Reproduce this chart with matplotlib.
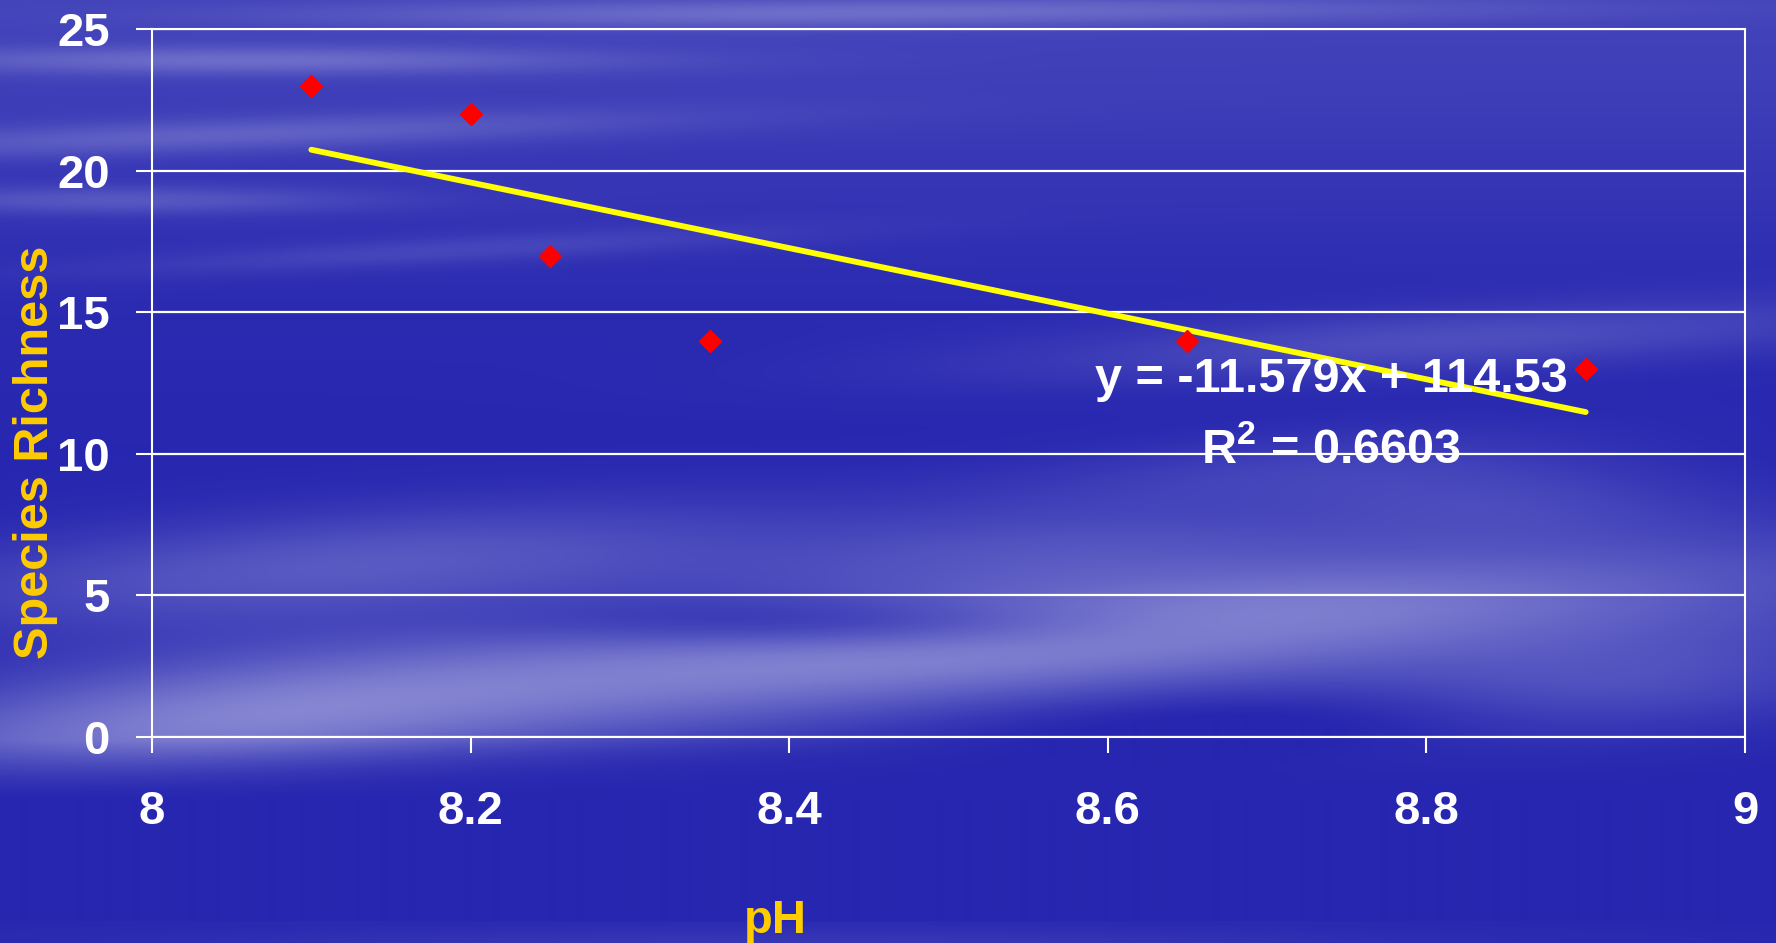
import numpy as np
import matplotlib
matplotlib.use('Agg')
import matplotlib.pyplot as plt

# ---------------- data ----------------
ph = [8.1, 8.2, 8.25, 8.35, 8.65, 8.9]
richness = [23, 22, 17, 14, 14, 13]
x_ticks = [8.0, 8.2, 8.4, 8.6, 8.8, 9.0]
x_tick_labels = ['8', '8.2', '8.4', '8.6', '8.8', '9']
y_ticks = [0, 5, 10, 15, 20, 25]
y_tick_labels = ['0', '5', '10', '15', '20', '25']
equation_text = 'y = -11.579x + 114.53'
r2_text = 'R$^{2}$ = 0.6603'
x_label = 'pH'
y_label = 'Species Richness'

# ---------------- style ----------------
plt.rcParams['font.family'] = ['Liberation Sans', 'DejaVu Sans']
plt.rcParams['mathtext.fontset'] = 'custom'
plt.rcParams['mathtext.rm'] = 'Liberation Sans:bold'
plt.rcParams['mathtext.it'] = 'Liberation Sans:bold'
plt.rcParams['mathtext.bf'] = 'Liberation Sans:bold'

W, H = 1776, 943
GOLD = '#FFCC00'

# ---------------- decorative sky background ----------------
yy, xx = np.mgrid[0:H, 0:W].astype(float)
inten = np.zeros((H, W))

def blob(cx, cy, sx, sy, amp, ang=0.0):
    a = np.deg2rad(ang)
    dx = xx - cx
    dy = yy - cy
    u = dx * np.cos(a) + dy * np.sin(a)
    v = -dx * np.sin(a) + dy * np.cos(a)
    return amp * np.exp(-0.5 * ((u / sx) ** 2 + (v / sy) ** 2))

inten += 0.22 * np.exp(-0.5 * (yy / 170.0) ** 2)
for b in [(250, 60, 260, 10, 0.35, 0), (220, 135, 320, 12, 0.30, -2),
          (120, 200, 180, 10, 0.28, 0), (700, 15, 320, 10, 0.25, 0),
          (1150, 8, 350, 10, 0.2, 0), (450, 250, 250, 10, 0.18, -3),
          (1450, 340, 320, 22, 0.28, -3), (1250, 475, 220, 28, 0.18, -5),
          (1500, 500, 150, 30, 0.2, 0),
          (350, 565, 320, 38, 0.40, -4), (780, 665, 480, 45, 0.55, -5),
          (1350, 610, 420, 45, 0.42, -4), (180, 725, 260, 45, 0.45, -6),
          (1050, 548, 220, 26, 0.22, -3), (1600, 690, 200, 40, 0.3, -5),
          (860, 625, 200, 18, -0.35, 0), (1300, 720, 250, 25, -0.15, 0),
          (800, 950, 500, 18, 0.15, 0)]:
    inten += blob(*b)
taper = np.clip(1 - (yy - 740) / 60.0, 0, 1)
taper = np.where(yy > 920, 1.0, taper)
inten = np.clip(inten * np.where(yy > 740, taper, 1.0), 0, 1)
dark = np.array([38, 38, 176]) / 255.0
light = np.array([165, 165, 222]) / 255.0
img = dark[None, None, :] * (1 - inten[..., None]) + light[None, None, :] * inten[..., None]

fig = plt.figure(figsize=(W / 100, H / 100), dpi=100)
bg = fig.add_axes([0, 0, 1, 1], zorder=-5)
bg.imshow(img, aspect='auto', extent=[0, W, H, 0], interpolation='bilinear')
bg.axis('off')

# ---------------- main axes ----------------
L, R, T, B = 152, 1745, 29, 737
ax = fig.add_axes([L / W, 1 - B / H, (R - L) / W, (B - T) / H])
ax.patch.set_alpha(0)

ax.set_xlim(8, 9)
ax.set_ylim(0, 25)
ax.set_xticks(x_ticks)
ax.set_xticklabels(x_tick_labels)
ax.set_yticks(y_ticks)
ax.set_yticklabels(y_tick_labels)

for s in ax.spines.values():
    s.set_color('white')
    s.set_linewidth(1.5)

ax.tick_params(axis='both', colors='white', direction='out', length=11.5, width=1.5,
               labelsize=34)
ax.tick_params(axis='x', pad=27)
ax.tick_params(axis='y', pad=19)
for lab in ax.get_xticklabels() + ax.get_yticklabels():
    lab.set_fontweight('bold')

ax.yaxis.grid(True, color='white', linewidth=1.6)
ax.set_axisbelow(True)

# trend line
slope, intercept = np.polyfit(ph, richness, 1)
xs = np.array([min(ph), max(ph)])
ax.plot(xs, slope * xs + intercept, color='#FFFF00', linewidth=4.2,
        solid_capstyle='round', zorder=3)

# points
ax.plot(ph, richness, linestyle='none', marker='D', markersize=11,
        color='#FF0000', markeredgecolor='#FF0000', zorder=4)

# equation
fig.text(1331 / W, 1 - 392 / H, equation_text, color='white', fontsize=35,
         fontweight='bold', ha='center', va='baseline')
fig.text(1331 / W, 1 - 463 / H, r2_text, color='white', fontsize=35,
         fontweight='bold', ha='center', va='baseline')

# axis labels
fig.text(775 / W, 1 - 933 / H, x_label, color=GOLD, fontsize=34,
         fontweight='bold', ha='center', va='baseline')
fig.text(36 / W, 1 - 452 / H, y_label, color=GOLD, fontsize=35,
         fontweight='bold', ha='center', va='center', rotation=90)

fig.savefig('out.png', dpi=100)
